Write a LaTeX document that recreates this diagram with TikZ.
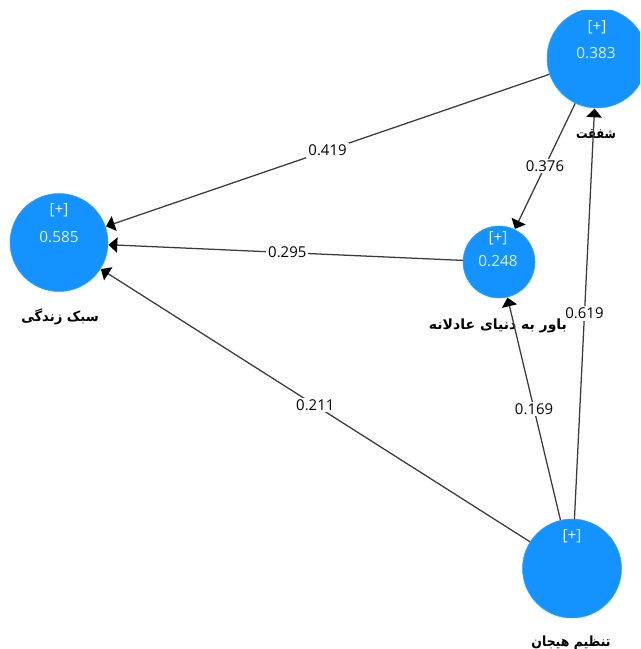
\documentclass[tikz,border=0pt]{standalone}
\usepackage{graphicx}
\usepackage{fontspec}
\setmainfont{Open Sans}
\newfontfamily\arabicfont[Script=Arabic]{DejaVu Sans}
\TeXXeTstate=1
\usetikzlibrary{arrows.meta}
\definecolor{lvblue}{HTML}{1493FF}
\definecolor{lvtext}{HTML}{E6F4FF}
\definecolor{pathline}{HTML}{3A3A3A}
\tikzset{
  lv/.style={circle,fill=lvblue,draw=lvblue!85!white,line width=0.4pt,inner sep=0pt,minimum size=#1*0.75pt},
  lvtxt/.style={text=lvtext,font=\fontsize{11.5}{13}\selectfont,inner sep=0pt},
  plink/.style={draw=pathline,line width=0.95pt,-{Triangle[length=6.5pt,width=11.5pt,color=black]},shorten >=0.3pt},
  coef/.style={fill=white,text=black,font=\fontsize{11.2}{13}\selectfont,inner xsep=1.6pt,inner ysep=1.2pt},
  fa/.style={text=black,font=\arabicfont\bfseries\fontsize{10.5}{12}\selectfont,inner sep=0pt}
}
\begin{document}
\begin{tikzpicture}[x=0.75pt,y=-0.75pt]
\useasboundingbox (0,0) rectangle (640,649);
\begin{scope}
\clip (0,11) rectangle (640,649);
\node[lv=100] (shafaghat) at (597,58) {};
\node[lv=98] (sabk) at (59,242.5) {};
\node[lv=72] (bavar) at (499,262) {};
\node[lv=99] (tanzim) at (572,568.5) {};
\end{scope}
\node[lvtxt] (p1) at (597,27) {[+]};
\node[lvtxt] (v1) at (596,53) {0.383};
\node[lvtxt] (p2) at (59,210) {[+]};
\node[lvtxt] (v2) at (59,237) {0.585};
\node[lvtxt] (p3) at (498,238) {[+]};
\node[lvtxt] (v3) at (498,261) {0.248};
\node[lvtxt] (p4) at (572,536) {[+]};
\node[fa] (l1) at (596,134) {\scalebox{0.82}[1]{\beginR شفقت\endR}};
\node[fa] (l2) at (60,317) {\scalebox{0.94}[1]{\beginR سبک زندگی\endR}};
\node[fa] (l3) at (498,326) {\beginR باور به دنیای عادلانه\endR};
\node[fa] (l4) at (571,642.5) {\scalebox{0.89}[1]{\beginR تنظیم هیجان\endR}};
\draw[plink] (shafaghat) -- node[coef,pos=0.5] {0.419} (sabk);
\draw[plink] (bavar) -- node[coef,pos=0.495] {0.295} (sabk);
\draw[plink] (tanzim) -- node[coef,pos=0.5] {0.211} (sabk);
\draw[plink] (shafaghat) -- node[coef,pos=0.5] {0.376} (bavar);
\draw[plink] (tanzim) -- node[coef,pos=0.498] {0.169} (bavar);
\draw[plink] (tanzim) -- node[coef,pos=0.5] {0.619} (shafaghat);
\end{tikzpicture}
\end{document}
